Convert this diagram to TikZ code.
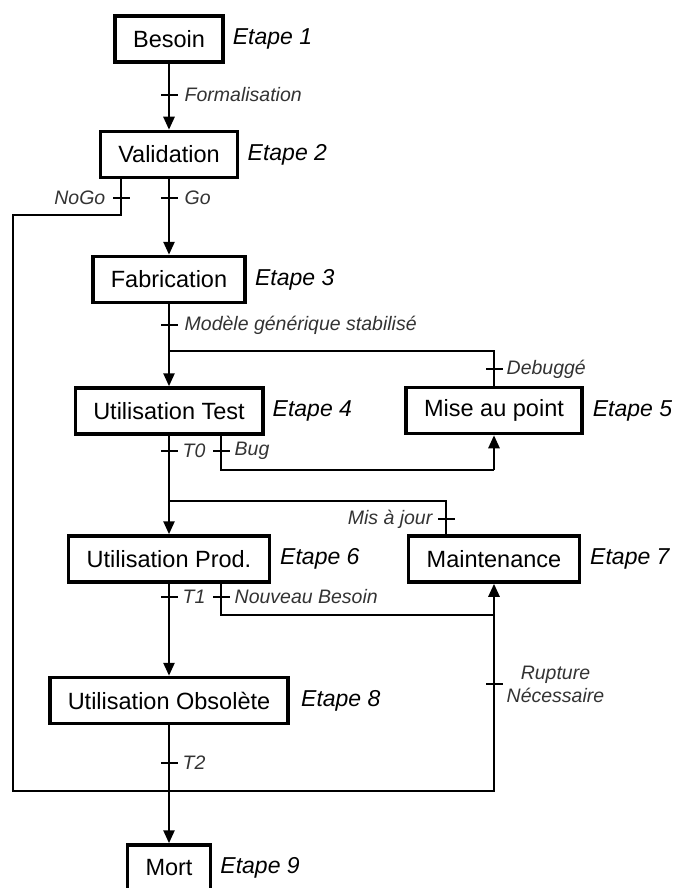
\documentclass[tikz,border=0pt]{standalone}
\usepackage{fontspec}
\setmainfont{Liberation Sans}
\usetikzlibrary{positioning,arrows.meta}
\begin{document}
\begin{tikzpicture}[x=1pt,y=-1pt,
  etape/.style={draw,line width=3.5pt,inner xsep=18pt,minimum height=46pt,font=\fontsize{23.5}{27}\selectfont},
  num/.style={inner sep=0pt,font=\fontsize{23}{27}\selectfont\itshape},
  tick/.style={fill=black,minimum width=17pt,minimum height=2.5pt,inner sep=0pt,outer sep=0pt},
  lbl/.style={inner sep=0pt,text=black!80,font=\fontsize{19.5}{23}\selectfont\itshape},
  lien/.style={line width=2.5pt},
  fleche/.style={lien,-{Triangle[length=13pt,width=11pt]}}]
\useasboundingbox (0,0) rectangle (673,888);
\clip (0,0) rectangle (673,888);
% etapes
\node[etape] (b1) at (169,39) {Besoin};
\node[etape] (b2) at (169,154.5) {Validation};
\node[etape] (b3) at (169,279.5) {Fabrication};
\node[etape] (b4) at (169,411) {Utilisation Test};
\node[etape] (b5) at (494,410.5) {Mise au point};
\node[etape] (b6) at (169,559) {Utilisation Prod.};
\node[etape] (b7) at (494,559) {Maintenance};
\node[etape] (b8) at (169,700.5) {Utilisation Obsolète};
\node[etape] (b9) at (169,868) {Mort};
\node[num,right=8pt of b1] (e1) {Etape 1};
\node[num,right=8pt of b2] (e2) {Etape 2};
\node[num,right=8pt of b3] (e3) {Etape 3};
\node[num,right=8pt of b4] (e4) {Etape 4};
\node[num,right=9pt of b5] (e5) {Etape 5};
\node[num,right=9pt of b6] (e6) {Etape 6};
\node[num,right=9pt of b7] (e7) {Etape 7};
\node[num,right=11pt of b8] (e8) {Etape 8};
\node[num,right=8pt of b9] (e9) {Etape 9};
% transitions
\node[tick] (tform) at (169,95) {};
\node[tick] (tnogo) at (121,198) {};
\node[tick] (tgo) at (169,198) {};
\node[tick] (tmod) at (169,325) {};
\node[tick] (tdeb) at (494,369) {};
\node[tick] (tt0) at (169,451) {};
\node[tick] (tbug) at (221,451) {};
\node[tick] (tmaj) at (446,519) {};
\node[tick] (tt1) at (169,597) {};
\node[tick] (tnb) at (221,597) {};
\node[tick] (trupt) at (494,684) {};
\node[tick] (tt2) at (169,763) {};
\node[lbl,right=7pt of tform] (lform) {Formalisation};
\node[lbl,left=7pt of tnogo] (lnogo) {NoGo};
\node[lbl,right=7pt of tgo] (lgo) {Go};
\node[lbl,right=7pt of tmod] (lmod) {Modèle générique stabilisé};
\node[lbl,right=4pt of tdeb] (ldeb) {Debuggé};
\node[lbl,right=5pt of tt0] (lt0) {T0};
\node[lbl,right=5pt of tbug] (lbug) {Bug};
\node[lbl,left=5pt of tmaj] (lmaj) {Mis à jour};
\node[lbl,right=5pt of tt1] (lt1) {T1};
\node[lbl,right=5pt of tnb] (lnb) {Nouveau Besoin};
\node[lbl,right=4pt of trupt,align=center] (lrupt) {Rupture\\Nécessaire};
\node[lbl,right=5pt of tt2] (lt2) {T2};
% coins
\coordinate (kA) at (13,215);
\coordinate (kB) at (13,791);
\coordinate (kC) at (494,791);
\coordinate (kD) at (169,351);
\coordinate (kE) at (494,470);
\coordinate (kF) at (169,501);
\coordinate (kG) at (494,615);
% liaisons
\draw[fleche] (b1) -- (tform) -- (b2);
\draw[fleche] (b2) -- (tgo) -- (b3);
\draw[fleche] (b3) -- (tmod) -- (b4);
\draw[fleche] (b4) -- (tt0) -- (b6);
\draw[fleche] (b6) -- (tt1) -- (b8);
\draw[fleche] (b8) -- (tt2) -- (b9);
\draw[lien] (b2.south -| tnogo) -- (tnogo) |- (kA) -- (kB) -- (kC) -- (trupt);
\draw[fleche] (trupt) -- (b7);
\draw[lien] (b5) -- (tdeb) |- (kD);
\draw[lien] (b4.south -| tbug) -- (tbug) |- (kE);
\draw[fleche] (kE) -- (b5);
\draw[lien] (b7.north -| tmaj) -- (tmaj) |- (kF);
\draw[lien] (b6.south -| tnb) -- (tnb) |- (kG);
\end{tikzpicture}
\end{document}
